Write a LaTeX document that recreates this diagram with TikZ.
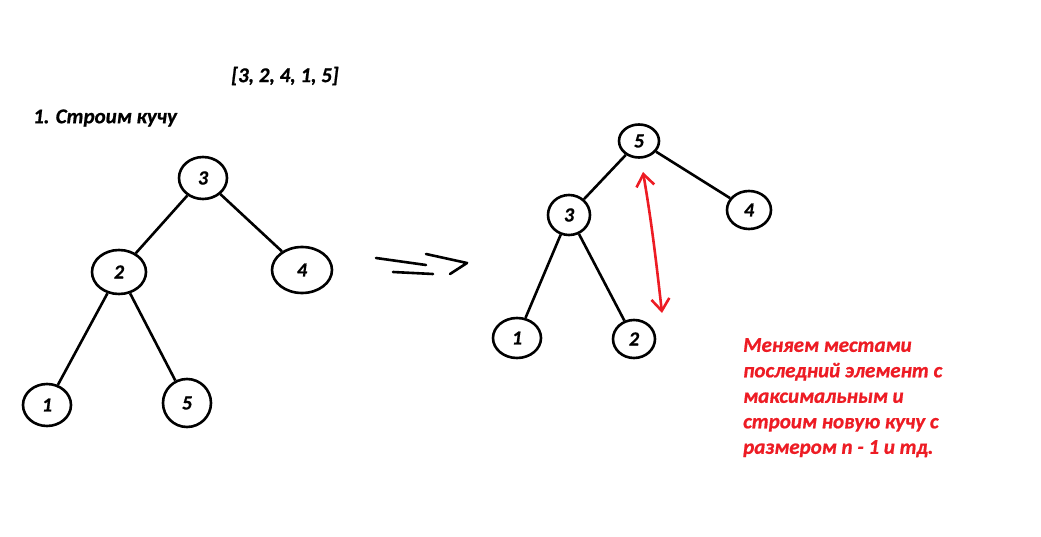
\documentclass[tikz,border=0pt]{standalone}
\usepackage{fontspec}
\setmainfont{Carlito}
\newfontfamily\cbi{Carlito Bold Italic}[FakeBold=0.8]
\usetikzlibrary{shapes.geometric,arrows.meta}
\definecolor{paintred}{RGB}{237,28,36}
\tikzset{
  heapnode/.style={ellipse, draw, line width=2.6pt, inner sep=0pt,
    font=\fontsize{20}{20}\selectfont\cbi},
  edge/.style={line width=2.6pt},
  txt/.style={font=\fontsize{21}{25.5}\selectfont\cbi, inner sep=0pt}
}
\begin{document}
\begin{tikzpicture}[x=1pt,y=-1pt]
\useasboundingbox (0,0) rectangle (1041,537);
% texts
\node[txt, anchor=west] (arr) at (231,76) {[3, 2, 4, 1, 5]};
\node[txt, anchor=west] (step1) at (33,118) {1. Строим кучу};
% left tree
\node[heapnode, minimum width=48pt, minimum height=42pt] (l3) at (203,178) {3};
\node[heapnode, minimum width=54pt, minimum height=44pt] (l2) at (119,272) {2};
\node[heapnode, minimum width=60pt, minimum height=46pt] (l4) at (302,270) {4};
\node[heapnode, minimum width=48pt, minimum height=42pt] (l1) at (47,405) {1};
\node[heapnode, minimum width=48pt, minimum height=48pt] (l5) at (187,403) {5};
\draw[edge] (l3) -- (l2);
\draw[edge] (l3) -- (l4);
\draw[edge] (l2) -- (l1);
\draw[edge] (l2) -- (l5);
% implies arrow
\coordinate (i1) at (376,258);
\coordinate (i2) at (426,265);
\coordinate (i3) at (393,272);
\coordinate (i4) at (433,274);
\coordinate (i5) at (426,254);
\coordinate (i6) at (467,263);
\coordinate (i7) at (450,274);
\draw[edge, line cap=round] (i1) -- (i2);
\draw[edge, line cap=round] (i3) -- (i4);
\draw[edge, line cap=round, line join=round] (i5) -- (i6) -- (i7);
% right tree
\node[heapnode, minimum width=40pt, minimum height=33pt] (r5) at (639,141) {5};
\node[heapnode, minimum width=42pt, minimum height=40pt] (r3) at (569,215) {3};
\node[heapnode, minimum width=44pt, minimum height=38pt] (r4) at (749,210) {4};
\node[heapnode, minimum width=48pt, minimum height=40pt] (r1) at (517,338) {1};
\node[heapnode, minimum width=42pt, minimum height=38pt] (r2) at (634,339) {2};
\draw[edge] (r5) -- (r3);
\draw[edge] (r5) -- (r4);
\draw[edge] (r3) -- (r1);
\draw[edge] (r3) -- (r2);
% red swap arrow
\coordinate (s1) at (643,172);
\coordinate (s2) at (662,313);
\draw[paintred, line width=2.6pt, line cap=round,
  {Straight Barb[length=12pt,width=18pt]}-{Straight Barb[length=12pt,width=18pt]}]
  (s1) .. controls (652,225) and (656,260) .. (s2);
% red note
\node[txt, anchor=north west, align=left, text=paintred] (note) at (743,338)
  {Меняем местами\\последний элемент с\\максимальным и\\строим новую кучу с\\размером n - 1 и тд.};
\end{tikzpicture}
\end{document}
